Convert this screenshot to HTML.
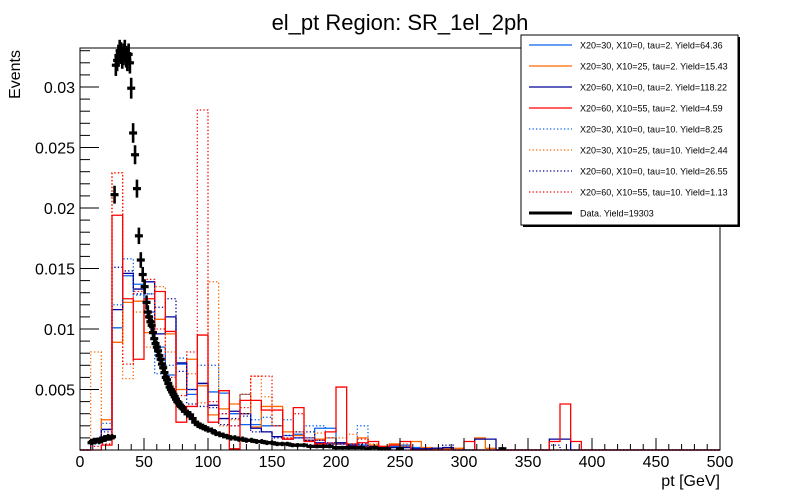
<!DOCTYPE html>
<html><head><meta charset="utf-8"><style>
html,body{margin:0;padding:0;background:#fff;}
svg{display:block;font-family:"Liberation Sans",Arial,sans-serif;}
</style></head><body>
<svg id="chart" width="800" height="500" viewBox="0 0 800 500">
<rect x="0" y="0" width="800" height="500" fill="#fff"/>
<text x="400" y="30" font-size="22" text-anchor="middle">el_pt Region: SR_1el_2ph</text>
<g id="hists"></g>
<g id="data"></g>
<g id="axes"></g>
<text x="0" y="0" font-size="16" text-anchor="end" transform="translate(20,50) rotate(-90)">Events</text>
<text x="720" y="486" font-size="16" text-anchor="end">pt [GeV]</text>
<g id="legend"></g>
</svg>
<script>
// ---- data ----
const binWidth = 500/60;
const sLightBlue2 = [0,0.8,1.7,10.1,14.4,13.7,11.4,8.5,6.2,7.1,4.6,5.5,4.8,4.7,3.0,2.1,2.1,2.0,2.0,1.2,1.3,1.0,1.8,1.8,0.5,0.3,0.4,0.2,0.2,0.3,0.4,0.2,0.1,0.1,0.1,0,0,0,0,0,0,0,0,0,0,0,0,0,0,0,0,0,0,0,0,0,0,0,0,0];
const sOrange2 = [0,0.6,2.5,8.9,12.2,12.3,9.7,10.8,9.6,5.0,7.5,5.3,2.9,3.4,3.8,4.6,1.9,3.6,3.6,1.5,1.2,0.8,0.9,1.0,0.6,0.5,1.0,0.4,0.3,0.5,0.3,0.7,0.2,0.1,0.1,0.14,0,1.0,0.14,0,0,0,0,0,0,0,0,0,0,0,0,0,0,0,0,0,0,0,0,0];
const sNavy2 = [0,0.7,1.7,11.6,14.6,13.3,13.9,9.6,11.0,7.2,5.0,5.5,3.7,2.6,3.2,3.0,1.8,1.5,1.1,0.9,1.0,0.8,0.6,0.5,0.6,0.4,0.3,0.3,0.2,0.2,0.2,0.1,0.1,0.15,0.2,0,0,0.9,0.9,0,0,0,0,0,0.9,0.9,0,0,0,0,0,0,0,0,0,0,0,0,0,0];
const sRed2 = [0,0,0.4,19.4,12.5,7.5,12.5,13.1,9.8,2.3,3.6,9.5,2.3,4.9,0.1,4.1,4.1,3.3,3.3,0.9,3.5,0.7,0.5,1.5,5.2,0.3,0.6,0.7,0.3,0.4,0.7,0,0,0,0,0,0.7,0,0,0,0,0,0,0,0.7,3.8,0.7,0,0,0,0,0,0,0,0,0,0,0,0,0];
const sLightBlue10 = [0,0.5,2.2,12.0,15.8,12.8,12.9,6.3,7.0,7.6,5.0,7.0,7.0,3.0,2.0,4.6,2.5,2.7,2.0,2.5,1.0,2.0,2.0,1.0,0.5,0.5,2.0,0.3,0,0,0.3,0,0,0,0,0,0,0,0,0,0,0,0,0,0,0,0,0,0,0,0,0,0,0,0,0,0,0,0,0];
const sOrange10 = [0,8.1,1.0,22.9,5.9,11.4,8.5,13.5,8.1,5.0,6.3,3.9,13.9,2.0,2.5,3.0,6.1,4.4,2.0,1.0,1.5,0.8,1.4,0.5,1.0,1.3,0.3,0.5,0,0,0.5,0,0,0,0,0,0,0,0,0,0,0,0,0,0,0,0,0,0,0,0,0,0,0,0,0,0,0,0,0];
const sNavy10 = [0,0.6,1.5,15.1,14.8,12.9,12.9,11.8,12.5,6.5,3.8,3.6,3.5,2.1,2.6,2.8,1.5,1.5,1.0,1.2,1.5,1.5,0.8,0.6,0.5,0.4,0.5,0.2,0,0,0,0,0,0,0.4,0,0,0,0,0,0,0,0,0,0.4,0,0,0,0,0,0,0,0,0,0,0,0,0,0,0];
const sRed10 = [0,0.3,0.5,22.9,7.1,13.1,14.1,10.0,6.0,4.5,8.1,28.1,4.0,3.0,2.0,3.5,6.1,6.1,2.0,1.0,3.0,1.0,0.8,0.6,0.5,0.5,0.9,0.3,0,0,0,0,0,0,0,0,0,0,0,0,0,0,0,0,0,0,0,0,0,0,0,0,0,0,0,0,0,0,0,0];
const dataX = [9,10,11,12,13,14,15,16,17,18,19,20,21,22,23,24,25,27,28,29,30,31,32,33,34,35,36,37,38,39,40,41.5,43,44.5,46,47.5,49,50.5,52,53,54,55,56,57,58,59,60,61,62,63,64,65,66,67,68,69,70,71,72,73,74,75,76,77,78,79,80,82,84,86,88,90,92,94,96,98,100,103,106,109,112,115,118,121,124,127,130,134,138,142,146,150,154,158,162,166,170,175,180,185,190,195,200,205,210,215,220,225,230,235,240,250,330];
const dataY = [0.0006,0.0007,0.0008,0.0007,0.0008,0.0008,0.0007,0.0009,0.0008,0.0009,0.0010,0.0009,0.0010,0.0011,0.0010,0.0010,0.0011,0.0211,0.0318,0.0322,0.0326,0.0330,0.0328,0.0324,0.0327,0.0330,0.0325,0.0322,0.0327,0.0320,0.0299,0.0262,0.0244,0.0216,0.0177,0.0157,0.0145,0.0135,0.0122,0.0114,0.0110,0.0106,0.0103,0.0097,0.0092,0.0088,0.0085,0.0082,0.0078,0.0075,0.0071,0.0068,0.0064,0.0060,0.0058,0.0055,0.0052,0.0050,0.0048,0.0046,0.0044,0.0042,0.0040,0.0039,0.0037,0.0036,0.0035,0.0032,0.0030,0.0029,0.0026,0.0023,0.0021,0.0020,0.0019,0.0018,0.0017,0.0016,0.0014,0.0013,0.0012,0.0011,0.0010,0.0010,0.0009,0.0009,0.0008,0.0008,0.0007,0.0007,0.0006,0.0006,0.0005,0.0005,0.0005,0.0004,0.0004,0.0004,0.0003,0.0003,0.0003,0.0003,0.0002,0.0002,0.0002,0.0002,0.0002,0.0001,0.0002,0.0001,0.0001,0.0001,0.0001];
const xTicks = [0,50,100,150,200,250,300,350,400,450,500];
const yTicks = [0.005,0.01,0.015,0.02,0.025,0.03];
const yTickLabels = ["0.005","0.01","0.015","0.02","0.025","0.03"];
const legendLabels = ["X20=30, X10=0, tau=2. Yield=64.36","X20=30, X10=25, tau=2. Yield=15.43","X20=60, X10=0, tau=2. Yield=118.22","X20=60, X10=55, tau=2. Yield=4.59","X20=30, X10=0, tau=10. Yield=8.25","X20=30, X10=25, tau=10. Yield=2.44","X20=60, X10=0, tau=10. Yield=26.55","X20=60, X10=55, tau=10. Yield=1.13","Data. Yield=19303"];

// ---- axes functions ----
const X0=80,X1=720,Y0=450,Y1=48,YMAX=(450-48)/12100;
const xs = v => X0 + v/500*(X1-X0);
const ys = v => Y0 - v/YMAX*(Y0-Y1);
const NS='http://www.w3.org/2000/svg';
function mk(tag, attrs, parent){const e=document.createElementNS(NS,tag);for(const k in attrs)e.setAttribute(k,attrs[k]);parent.appendChild(e);return e;}

// ---- histograms ----
const series = [
 {v:sLightBlue2,c:'#0a64f0',d:null,n:'hist-x20-30-x10-0-tau2'},
 {v:sOrange2,c:'#ff6600',d:null,n:'hist-x20-30-x10-25-tau2'},
 {v:sNavy2,c:'#000099',d:null,n:'hist-x20-60-x10-0-tau2'},
 {v:sLightBlue10,c:'#0a64f0',d:'1.3 2.2',n:'hist-x20-30-x10-0-tau10'},
 {v:sOrange10,c:'#ff6600',d:'1.3 2.2',n:'hist-x20-30-x10-25-tau10'},
 {v:sNavy10,c:'#000099',d:'1.3 2.2',n:'hist-x20-60-x10-0-tau10'},
 {v:sRed10,c:'#ff0000',d:'1.3 2.2',n:'hist-x20-60-x10-55-tau10'},
 {v:sRed2,c:'#ff0000',d:null,n:'hist-x20-60-x10-55-tau2'}
];
const hg=document.getElementById('hists');
series.forEach(s=>{
  let p='M'+xs(0)+','+ys(0);
  s.v.forEach((val,i)=>{const v=val/1000;p+=' L'+xs(i*binWidth).toFixed(2)+','+ys(v).toFixed(2)+' L'+xs((i+1)*binWidth).toFixed(2)+','+ys(v).toFixed(2);});
  p+=' L'+xs(500)+','+ys(0);
  const a={d:p,fill:'none',stroke:s.c,'stroke-width':1.3};
  if(s.d)a['stroke-dasharray']=s.d;
  const e=mk('path',a,hg);
  
  
});

// ---- data points ----
const dg=document.getElementById('data');
dataX.forEach((x,i)=>{
  const y=dataY[i];const err=0.0045*Math.sqrt(y);
  const g=mk('g',{},dg);
  
  
  mk('line',{x1:xs(x),x2:xs(x),y1:ys(y+err)-1,y2:Math.min(ys(y-err)+1,450),stroke:'#000','stroke-width':2.6},g);
  mk('line',{x1:xs(x)-4,x2:xs(x)+4,y1:ys(y),y2:ys(y),stroke:'#000','stroke-width':3.2},g);
});

// ---- axes ----
const ag=document.getElementById('axes');
const fr=mk('rect',{x:X0,y:Y1,width:X1-X0,height:Y0-Y1,fill:'none',stroke:'#000','stroke-width':1},ag);


for(let v=0;v<=500;v+=10){const maj=v%50===0;mk('line',{x1:xs(v),x2:xs(v),y1:Y0,y2:Y0-(maj?12:6),stroke:'#000','stroke-width':1},ag);}
for(let v=0.001;v<YMAX;v+=0.001){const maj=Math.abs(v/0.005-Math.round(v/0.005))<1e-6;mk('line',{x1:X0,x2:X0+(maj?19:10),y1:ys(v),y2:ys(v),stroke:'#000','stroke-width':1},ag);}
xTicks.forEach(t=>{const e=mk('text',{x:xs(t),y:467,'font-size':16,'text-anchor':'middle'},ag);e.textContent=t;
  
  });
yTicks.forEach((t,i)=>{const e=mk('text',{x:75,y:ys(t)+6,'font-size':16,'text-anchor':'end'},ag);e.textContent=yTickLabels[i];
  
  });

// ---- legend ----
const lg=document.getElementById('legend');
mk('rect',{x:523,y:37,width:217,height:190,fill:'#000'},lg);
const lb=mk('rect',{x:521,y:35,width:217,height:190,fill:'#fff',stroke:'#000','stroke-width':1},lg);


const legStyles=[['#0a64f0',null,1.3],['#ff6600',null,1.3],['#000099',null,1.3],['#ff0000',null,1.3],['#0a64f0','1.3 2.2',1.3],['#ff6600','1.3 2.2',1.3],['#000099','1.3 2.2',1.3],['#ff0000','1.3 2.2',1.3],['#000',null,3]];
legendLabels.forEach((t,i)=>{
  const y=45+i*21;
  const g=mk('g',{},lg);
  
  
  const a={x1:529,x2:572,y1:y,y2:y,stroke:legStyles[i][0],'stroke-width':legStyles[i][2]};
  if(legStyles[i][1])a['stroke-dasharray']=legStyles[i][1];
  mk('line',a,g);
  const e=mk('text',{x:580,y:y+3.5,'font-size':9},g);e.textContent=t;
});
</script>
</body></html>
